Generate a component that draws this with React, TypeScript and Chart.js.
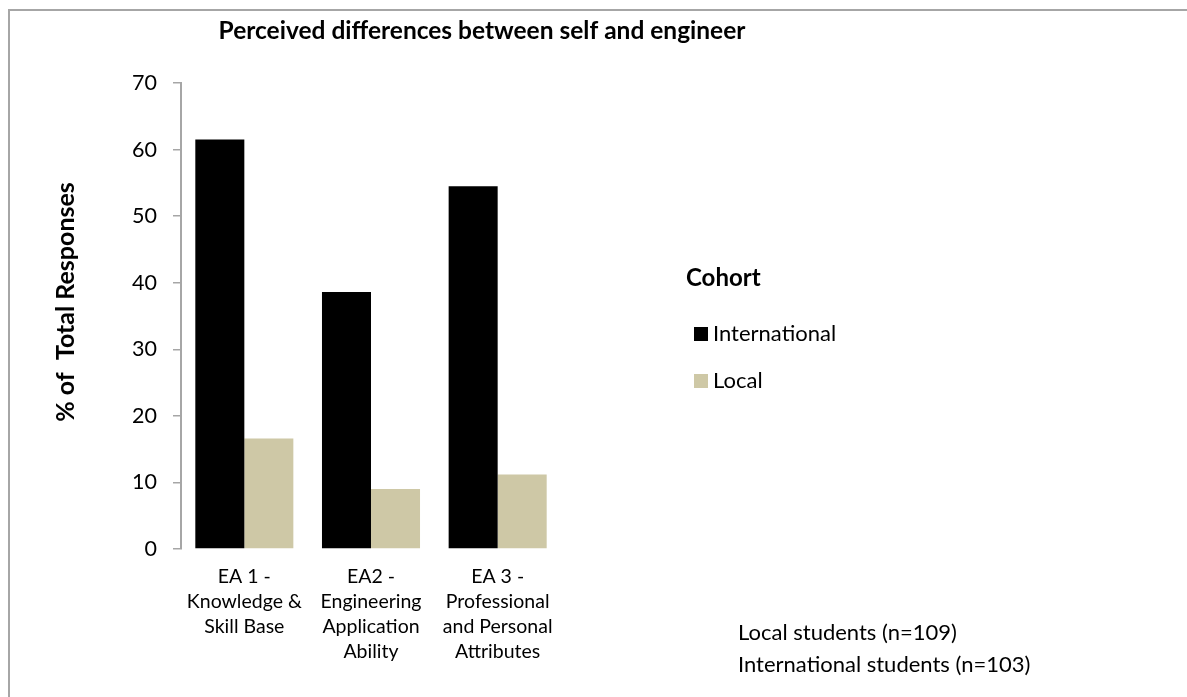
import React, { useEffect, useRef } from "react";
import { Chart, registerables } from "chart.js";

Chart.register(...registerables);

const TITLE = "Perceived differences between self and engineer";
const Y_TITLE = "% of  Total Responses";
const LEGEND_TITLE = "Cohort";
const CATEGORIES: string[][] = [
  ["EA 1 -", "Knowledge &", "Skill Base"],
  ["EA2 -", "Engineering", "Application", "Ability"],
  ["EA 3 -", "Professional", "and Personal", "Attributes"],
];
const SERIES_NAMES = ["International", "Local"];
const SERIES_COLORS = ["#000000", "#CEC8A6"];
const INTERNATIONAL = [61.5, 38.6, 54.5];
const LOCAL = [16.6, 9.0, 11.2];
const Y_MIN = 0;
const Y_MAX = 70;
const Y_STEP = 10;
const FOOTNOTES = ["Local students (n=109)", "International students (n=103)"];

const FONT = "Lato, 'Open Sans', sans-serif";

const W = 1187;
const H = 697;

const decorPlugin = {
  id: "decor",
  afterDraw(chart: any) {
    const ctx = chart.ctx as CanvasRenderingContext2D;
    ctx.save();
    // frame
    ctx.strokeStyle = "#a6a6a6";
    ctx.lineWidth = 2;
    ctx.beginPath();
    ctx.moveTo(9, H);
    ctx.lineTo(9, 10);
    ctx.lineTo(W, 10);
    ctx.stroke();

    // title
    ctx.fillStyle = "#000";
    ctx.font = `bold 24.5px ${FONT}`;
    ctx.textAlign = "center";
    ctx.textBaseline = "alphabetic";
    ctx.fillText(TITLE, 482, 39);

    // y-axis title
    ctx.save();
    ctx.translate(66, 302);
    ctx.rotate(-Math.PI / 2);
    ctx.font = `bold 25px ${FONT}`;
    ctx.textAlign = "center";
    ctx.textBaseline = "middle";
    ctx.fillText(Y_TITLE, 0, 0);
    ctx.restore();

    // legend
    ctx.textAlign = "left";
    ctx.textBaseline = "middle";
    ctx.font = `bold 24px ${FONT}`;
    ctx.fillText(LEGEND_TITLE, 686, 278);
    ctx.font = `22px ${FONT}`;
    const ys = [334, 381];
    chart.data.datasets.forEach((ds: any, i: number) => {
      ctx.fillStyle = ds.backgroundColor;
      ctx.fillRect(694, ys[i] - 7, 14, 14);
      ctx.fillStyle = "#000";
      ctx.fillText(ds.label, 713, ys[i]);
    });

    // footnotes
    ctx.font = `22px ${FONT}`;
    FOOTNOTES.forEach((t, i) => {
      ctx.fillText(t, 738, 633 + i * 32);
    });
    ctx.restore();
  },
};

export default function App() {
  const ref = useRef<HTMLCanvasElement>(null);
  useEffect(() => {
    if (!ref.current) return;
    const chart = new Chart(ref.current, {
      type: "bar",
      data: {
        labels: CATEGORIES,
        datasets: [
          {
            label: SERIES_NAMES[0],
            data: INTERNATIONAL,
            backgroundColor: SERIES_COLORS[0],
            borderWidth: 0,
          },
          {
            label: SERIES_NAMES[1],
            data: LOCAL,
            backgroundColor: SERIES_COLORS[1],
            borderWidth: 0,
          },
        ],
      },
      options: {
        responsive: false,
        animation: false,
        devicePixelRatio: 1,
        layout: { padding: { left: 0, top: 83, right: 626, bottom: 0 } },
        plugins: {
          legend: { display: false },
          title: { display: false },
          tooltip: { enabled: false },
        },
        datasets: {
          bar: { categoryPercentage: 0.774, barPercentage: 1.0 },
        },
        scales: {
          x: {
            grid: { display: false, drawTicks: false },
            border: { display: false },
            ticks: {
              color: "#000",
              font: { family: FONT, size: 19.5, lineHeight: "25px" },
              padding: 15,
              maxRotation: 0,
              autoSkip: false,
            },
            afterFit: (s: any) => {
              s.height = 148;
            },
          },
          y: {
            min: Y_MIN,
            max: Y_MAX,
            grid: {
              drawOnChartArea: false,
              drawTicks: true,
              tickLength: 8,
              color: "#a6a6a6",
              lineWidth: 1.5,
            },
            border: { display: true, color: "#a6a6a6", width: 2 },
            ticks: {
              stepSize: Y_STEP,
              color: "#000",
              font: { family: FONT, size: 21.5 },
              padding: 16,
            },
            afterFit: (s: any) => {
              s.width = 181;
            },
          },
        },
      },
      plugins: [decorPlugin],
    });
    return () => chart.destroy();
  }, []);
  return (
    <div style={{ position: "fixed", left: 0, top: 0, width: W, height: H, background: "#fff" }}>
      <canvas ref={ref} width={W} height={H} style={{ display: "block" }} />
    </div>
  );
}
